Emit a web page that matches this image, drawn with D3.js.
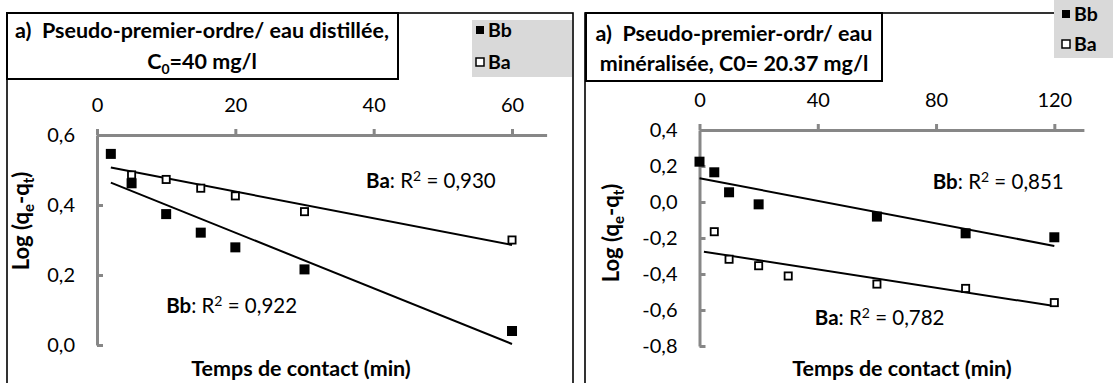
<!DOCTYPE html>
<html>
<head>
<meta charset="utf-8">
<script src="https://cdn.jsdelivr.net/npm/d3@7"></script>
<style>
html,body{margin:0;padding:0;background:#fff;}
svg{display:block;}
text{font-family:Lato,"Open Sans",sans-serif;fill:#000;white-space:pre;}
</style>
</head>
<body>
<svg id="chart" width="1113" height="383"></svg>
<script>
// ---------- data ----------
const seriesNames = ["Bb", "Ba"];
// Left panel: eau distillée, C0 = 40 mg/l
const leftTicksX = [0, 20, 40, 60];
const leftTicksY = [0, 0.2, 0.4, 0.6];
const leftBbX = [2, 5, 10, 15, 20, 30, 60];
const leftBbY = [0.546, 0.462, 0.374, 0.321, 0.279, 0.216, 0.040];
const leftBaX = [5, 10, 15, 20, 30, 60];
const leftBaY = [0.486, 0.473, 0.448, 0.426, 0.381, 0.300];
const leftTrendX = [2, 60];
const leftBbTrend = [0.464, 0.003];
const leftBaTrend = [0.507, 0.286];
const leftR2 = ["0,922", "0,930"];
// Right panel: eau minéralisée, C0 = 20.37 mg/l
const rightTicksX = [0, 40, 80, 120];
const rightTicksY = [-0.8, -0.6, -0.4, -0.2, 0, 0.2, 0.4];
const rightBbX = [0, 5, 10, 20, 60, 90, 120];
const rightBbY = [0.224, 0.165, 0.054, -0.013, -0.081, -0.174, -0.196];
const rightBaX = [5, 10, 20, 30, 60, 90, 120];
const rightBaY = [-0.165, -0.318, -0.354, -0.411, -0.456, -0.480, -0.559];
const rightBbTrendX = [0, 120];
const rightBbTrend = [0.132, -0.244];
const rightBaTrendX = [1.5, 120];
const rightBaTrend = [-0.276, -0.578];
const rightR2 = ["0,851", "0,782"];

const fmt = v => d3.format(".1f")(v).replace(".", ",").replace("−", "-");

const svg = d3.select("#chart");
const AX = "#878787";

function panel(cfg) {
  const g = svg.append("g");
  // outer frame
  g.append("rect").attr("x", cfg.frame[0]).attr("y", cfg.frame[1])
    .attr("width", cfg.frame[2]).attr("height", cfg.frame[3])
    .attr("fill", "none").attr("stroke", "#000").attr("stroke-width", 1.6);
  // legend
  g.append("rect").attr("x", cfg.legend[0]).attr("y", cfg.legend[1])
    .attr("width", cfg.legend[2]).attr("height", cfg.legend[3]).attr("fill", "#d9d9d9");
  seriesNames.forEach((n, i) => {
    const ly = cfg.legendRows[i];
    g.append("rect").attr("x", cfg.legendMarkX).attr("y", ly - 4).attr("width", 8).attr("height", 8)
      .attr("fill", i === 0 ? "#000" : "#fff").attr("stroke", "#000").attr("stroke-width", i === 0 ? 0 : 1.5);
    g.append("text").attr("x", cfg.legendMarkX + 12).attr("y", ly).attr("dy", "0.35em")
      .attr("font-size", 19.5).attr("font-weight", "bold").text(n);
  });
  // title box
  g.append("rect").attr("x", cfg.title[0]).attr("y", cfg.title[1])
    .attr("width", cfg.title[2]).attr("height", cfg.title[3])
    .attr("fill", "#fff").attr("stroke", "#000").attr("stroke-width", 2);
  cfg.titleLines(g);

  const x = d3.scaleLinear().domain(cfg.xDomain).range(cfg.xRange);
  const y = d3.scaleLinear().domain(cfg.yDomain).range(cfg.yRange);

  const ax = g.append("g").attr("transform", `translate(0,${y(cfg.yDomain[1])})`)
    .call(d3.axisTop(x).tickValues(cfg.ticksX).tickSize(6).tickSizeOuter(0).tickPadding(17));
  const ay = g.append("g").attr("transform", `translate(${x(0)},0)`)
    .call(d3.axisLeft(y).tickValues(cfg.ticksY).tickSize(-6).tickSizeOuter(0).tickPadding(22).tickFormat(fmt));
  [ax, ay].forEach(a => {
    a.select(".domain").attr("stroke", AX).attr("stroke-width", 3);
    a.selectAll(".tick line").attr("stroke", AX).attr("stroke-width", 3);
    a.selectAll(".tick text").attr("font-size", 20).attr("font-family", "Lato").attr("fill", "#000");
  });

  // trendlines
  const line = d3.line().x(d => x(d[0])).y(d => y(d[1]));
  cfg.trends.forEach(t => {
    g.append("path").datum(t[0].map((v, i) => [v, t[1][i]])).attr("d", line)
      .attr("fill", "none").attr("stroke", "#000").attr("stroke-width", 2);
  });
  // markers
  g.selectAll(null).data(cfg.bb[0].map((v, i) => [v, cfg.bb[1][i]])).join("rect")
    .attr("x", d => x(d[0]) - 5).attr("y", d => y(d[1]) - 5).attr("width", 10).attr("height", 10)
    .attr("fill", "#000");
  g.selectAll(null).data(cfg.ba[0].map((v, i) => [v, cfg.ba[1][i]])).join("rect")
    .attr("x", d => x(d[0]) - 3.6).attr("y", d => y(d[1]) - 3.6).attr("width", 7.2).attr("height", 7.2)
    .attr("fill", "#fff").attr("stroke", "#000").attr("stroke-width", 1.8);

  // R² labels
  cfg.labels.forEach(l => {
    const t = g.append("text").attr("x", x(l.x)).attr("y", y(l.y)).attr("dy", "0.35em").attr("font-size", 20.5);
    t.append("tspan").attr("font-weight", "bold").text(l.name);
    t.append("tspan").text(": R");
    t.append("tspan").attr("font-size", 14).attr("dy", -7).text("2");
    t.append("tspan").attr("dy", 7).text(" = " + l.r2);
  });

  // axis titles
  g.append("text").attr("x", cfg.xTitle[0]).attr("y", cfg.xTitle[1]).attr("dy", "0.35em")
    .attr("text-anchor", "middle").attr("font-size", 21.5).attr("font-weight", "bold")
    .text("Temps de contact (min)");
  const yt = g.append("text").attr("transform", `translate(${cfg.yTitle[0]},${cfg.yTitle[1]}) rotate(-90)`)
    .attr("text-anchor", "middle").attr("font-size", 22).attr("font-weight", "bold");
  yt.append("tspan").text("Log (q");
  yt.append("tspan").attr("font-size", 15).attr("dy", 5).text("e");
  yt.append("tspan").attr("dy", -5).text("-q");
  yt.append("tspan").attr("font-size", 15).attr("dy", 5).text("t");
  yt.append("tspan").attr("dy", -5).text(")");
}

panel({
  frame: [7, 13, 566, 400],
  legend: [472, 20, 100, 57],
  legendRows: [30, 62],
  legendMarkX: 476,
  title: [7, 13, 391, 66],
  titleLines: g => {
    g.append("text").attr("x", 202).attr("y", 30).attr("dy", "0.35em").attr("text-anchor", "middle")
      .attr("font-size", 21.5).attr("font-weight", "bold").text("a)  Pseudo-premier-ordre/ eau distillée,");
    const t = g.append("text").attr("x", 202).attr("y", 61).attr("dy", "0.35em").attr("text-anchor", "middle")
      .attr("font-size", 21.5).attr("font-weight", "bold");
    t.append("tspan").text("C");
    t.append("tspan").attr("font-size", 14).attr("dy", 5).text("0");
    t.append("tspan").attr("dy", -5).text("=40 mg/l");
  },
  xDomain: [0, 65], xRange: [97, 546.6],
  yDomain: [0, 0.6], yRange: [345, 135],
  ticksX: leftTicksX, ticksY: leftTicksY,
  bb: [leftBbX, leftBbY], ba: [leftBaX, leftBaY],
  trends: [[leftTrendX, leftBbTrend], [leftTrendX, leftBaTrend]],
  labels: [{name: "Ba", r2: leftR2[1], x: 38.9, y: 0.469}, {name: "Bb", r2: leftR2[0], x: 10, y: 0.111}],
  xTitle: [301, 368], yTitle: [29, 221]
});

panel({
  frame: [585, 13, 540, 400],
  legend: [1054, 0, 70, 58],
  legendRows: [14, 44],
  legendMarkX: 1062,
  title: [586, 13, 296, 68],
  titleLines: g => {
    g.append("text").attr("x", 734).attr("y", 33).attr("dy", "0.35em").attr("text-anchor", "middle")
      .attr("font-size", 21.5).attr("font-weight", "bold").text("a)  Pseudo-premier-ordr/ eau");
    g.append("text").attr("x", 734).attr("y", 63).attr("dy", "0.35em").attr("text-anchor", "middle")
      .attr("font-size", 21.5).attr("font-weight", "bold").text("minéralisée, C0= 20.37 mg/l");
  },
  xDomain: [0, 130], xRange: [699.5, 1083.9],
  yDomain: [-0.8, 0.4], yRange: [346, 130],
  ticksX: rightTicksX, ticksY: rightTicksY,
  bb: [rightBbX, rightBbY], ba: [rightBaX, rightBaY],
  trends: [[rightBbTrendX, rightBbTrend], [rightBaTrendX, rightBaTrend]],
  labels: [{name: "Bb", r2: rightR2[0], x: 78.9, y: 0.113}, {name: "Ba", r2: rightR2[1], x: 39, y: -0.641}],
  xTitle: [902, 368], yTitle: [619, 233]
});
</script>
</body>
</html>
